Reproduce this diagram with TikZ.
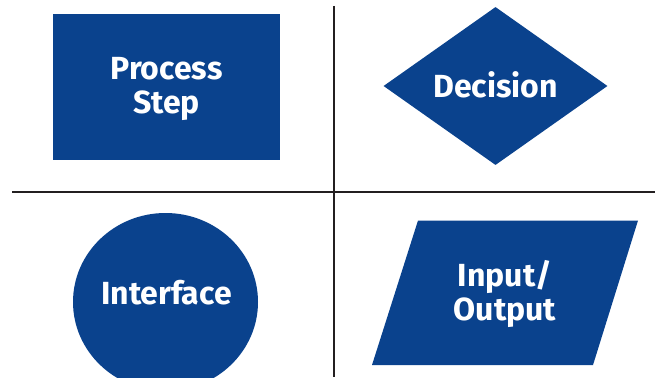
\documentclass[tikz,border=0pt]{standalone}
\usepackage{fontspec}
\setmainfont{Fira Sans}
\usetikzlibrary{shapes.geometric}
\definecolor{flowblue}{HTML}{0A428D}
\definecolor{rulegray}{HTML}{231F20}
\tikzset{
  symbol/.style={fill=flowblue, draw=none, inner sep=0pt},
  caption/.style={text=white, font=\fontsize{32}{34}\selectfont\bfseries, align=center, inner sep=0pt},
  divider/.style={draw=rulegray, line width=2pt}
}
\begin{document}
\begin{tikzpicture}[x=1pt, y=-1pt]
  \useasboundingbox (0,0) rectangle (660,377);
  \clip (0,0) rectangle (660,377);

  % quadrant dividers
  \coordinate (vtop) at (333.5,6);
  \coordinate (vbot) at (333.5,377);
  \coordinate (hleft) at (12,191.5);
  \coordinate (hright) at (655,191.5);
  \draw[divider] (vtop) -- (vbot);
  \draw[divider] (hleft) -- (hright);

  % process step
  \node[symbol, rectangle, minimum width=227pt, minimum height=146pt] (proc) at (166.5,87) {};
  \node[caption] (proctext) at (166.5,89) {Process\\Step};

  % decision
  \node[symbol, diamond, minimum width=224pt, minimum height=158pt] (dec) at (495.5,86) {};
  \node[caption] (dectext) at (495.5,85) {Decision};

  % interface
  \node[symbol, ellipse, minimum width=185pt, minimum height=178pt] (intf) at (165.5,302) {};
  \node[caption] (intftext) at (166.5,293) {Interface};

  % input / output
  \coordinate (ioA) at (418,220.5);
  \coordinate (ioB) at (638,220.5);
  \coordinate (ioC) at (593,365);
  \coordinate (ioD) at (372,365);
  \fill[flowblue] (ioA) -- (ioB) -- (ioC) -- (ioD) -- cycle;
  \node[caption] (iotext) at (505,294) {Input/\\Output};
\end{tikzpicture}
\end{document}
